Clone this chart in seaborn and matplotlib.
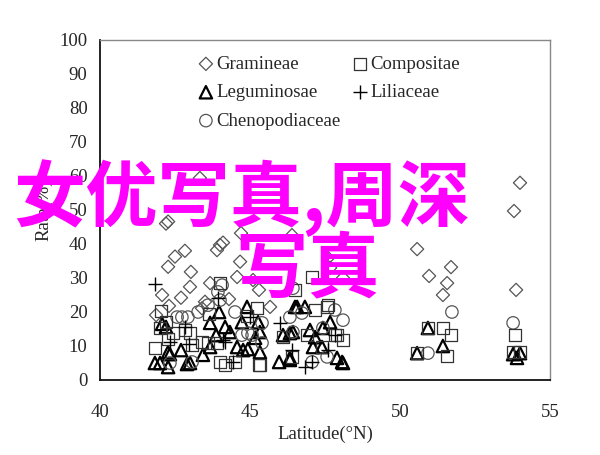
import matplotlib
matplotlib.use("Agg")
import matplotlib.pyplot as plt
import seaborn as sns
import pandas as pd

# ---- data ----
gram_x = [43.33, 54.0, 53.8, 50.57, 51.7, 50.97, 51.57, 51.43, 53.87,
          42.2, 42.27, 42.83, 42.5, 42.27, 43.03, 43.0, 42.7, 42.07, 42.3, 41.87,
          44.0, 44.1, 43.9, 44.7, 44.67, 44.57, 43.67, 44.3, 43.5, 43.4,
          45.1, 45.3, 45.67, 46.4, 47.6, 47.67, 48.1]
gram_y = [59.4, 58.0, 49.7, 38.5, 33.2, 30.6, 28.5, 25.0, 26.5,
          46.0, 46.6, 38.0, 36.3, 33.3, 31.8, 27.4, 24.2, 25.0, 21.8, 19.1,
          39.7, 40.4, 38.2, 43.2, 34.8, 30.3, 28.5, 23.8, 23.0, 21.1,
          29.4, 26.5, 21.5, 42.6, 35.9, 33.0, 30.0]

comp_x = [42.03, 41.83, 42.0, 42.27, 42.43, 42.83, 43.0, 42.2, 43.07, 43.4, 43.6,
          43.63, 44.0, 44.0, 44.17, 44.5, 45.3, 45.23, 43.9, 44.9,
          47.07, 46.5, 47.57, 46.9, 46.1, 47.4, 45.33, 46.4, 47.9, 47.6, 47.17,
          47.83, 48.1, 50.93, 51.43, 51.7, 50.57, 51.57, 53.83, 53.77, 54.0]
comp_y = [20.3, 9.4, 15.3, 12.0, 13.8, 14.7, 13.8, 17.0, 10.3, 11.2, 10.9,
          19.4, 28.5, 5.3, 4.4, 5.3, 4.4, 21.2, 10.9, 18.8,
          30.3, 26.5, 21.5, 13.2, 12.6, 9.7, 4.4, 6.8, 13.2, 22.0, 20.6,
          13.2, 11.8, 15.3, 15.3, 13.2, 7.9, 7.1, 13.2, 8.2, 8.2]

legu_x = [42.07, 42.2, 41.83, 42.0, 42.27, 42.27, 42.33, 42.7, 42.9, 43.0, 43.43,
          43.67, 43.67, 43.87, 43.97, 44.17, 44.33, 44.57, 44.73, 44.77, 44.93,
          44.9, 45.17, 45.27, 45.33, 45.33, 45.97, 46.1, 46.33, 46.33, 46.5,
          46.57, 46.83, 46.43, 47.0, 47.67, 47.1, 47.4, 46.33, 47.9, 47.43,
          47.17, 48.07, 48.1, 50.93, 50.57, 51.43, 53.77, 53.9, 54.0]
legu_y = [16.5, 15.6, 5.0, 5.0, 3.8, 8.2, 7.6, 8.8, 4.7, 5.0, 7.4,
          9.7, 16.8, 13.2, 20.0, 15.6, 14.1, 9.7, 17.0, 8.8, 9.1,
          21.5, 12.4, 17.0, 14.1, 8.2, 5.3, 13.2, 13.8, 5.9, 21.5,
          21.5, 21.5, 14.1, 14.7, 17.0, 9.7, 9.7, 6.5, 6.5, 15.3,
          12.6, 5.3, 5.0, 15.3, 7.9, 10.0, 7.6, 6.5, 7.9]

lili_x = [41.83, 42.97, 44.43, 43.93, 46.0, 44.1, 42.83, 45.0, 46.4, 47.6,
          46.83, 47.07, 42.33, 44.17, 47.83]
lili_y = [28.2, 10.6, 5.3, 24.1, 16.8, 11.8, 15.6, 18.5, 8.8, 8.8,
          3.8, 5.3, 11.2, 11.2, 13.2]

cheno_x = [42.57, 42.73, 42.93, 42.33, 43.27, 43.6, 44.0, 44.5, 44.73, 44.93,
           45.4, 45.4, 43.07, 43.93, 44.07, 46.43, 46.73, 46.33, 47.43, 46.43,
           45.07, 47.57, 47.07, 47.83, 48.1, 51.73, 50.93, 53.77]
cheno_y = [18.5, 18.5, 18.5, 5.0, 20.0, 22.0, 23.5, 20.0, 13.2, 13.8,
           10.9, 16.8, 5.3, 25.9, 27.9, 27.0, 19.7, 18.5, 15.3, 14.1,
           13.2, 6.8, 5.3, 20.6, 17.6, 20.0, 7.9, 16.8]

x_ticks = [40, 45, 50, 55]
y_ticks = list(range(0, 101, 10))

# ---- figure ----
sns.set_style("white")
plt.rcParams["font.family"] = ["Liberation Serif", "DejaVu Serif"]

fig = plt.figure(figsize=(6.0, 4.55), dpi=100)
ax = fig.add_axes([100/600, 1-380/455, 450/600, 340/455])

specs = [
    ("Gramineae", gram_x, gram_y, "D", 45, "#555555", 0.9),
    ("Leguminosae", legu_x, legu_y, "^", 80, "#000000", 1.6),
    ("Chenopodiaceae", cheno_x, cheno_y, "o", 80, "#555555", 0.9),
    ("Compositae", comp_x, comp_y, "s", 75, "#333333", 0.9),
    ("Liliaceae", lili_x, lili_y, "+", 90, "#000000", 1.0),
]
for name, xs, ys, m, s, c, lw in specs:
    df = pd.DataFrame({"x": xs, "y": ys})
    if m == "+":
        sns.scatterplot(data=df, x="x", y="y", marker=m, s=s, color=c,
                        linewidth=lw, label=name, ax=ax)
    else:
        sns.scatterplot(data=df, x="x", y="y", marker=m, s=s,
                        facecolor="none", edgecolor=c, linewidth=lw,
                        label=name, ax=ax)

ax.set_xlim(40, 55)
ax.set_ylim(0, 100)
ax.set_xticks(x_ticks)
ax.set_yticks(y_ticks)
ax.tick_params(axis="both", direction="in", labelsize=13.5, length=4,
               width=1, color="#333333", top=False, right=False, pad=9)
ax.tick_params(axis="x", pad=17)
for side in ["left", "bottom"]:
    ax.spines[side].set_color("#111111")
    ax.spines[side].set_linewidth(1.3)
for side in ["top", "right"]:
    ax.spines[side].set_color("#888888")
    ax.spines[side].set_linewidth(1.0)

ax.set_xlabel("Latitude(°N)", fontsize=13.5, labelpad=4)
ax.set_ylabel("Rate(%)", fontsize=13.5, labelpad=5)

leg = ax.legend(loc="upper left", bbox_to_anchor=(0.202, 0.976), ncol=2,
                frameon=False, fontsize=13.5, handlelength=0.8,
                handletextpad=0.15, columnspacing=0.65, labelspacing=0.6,
                borderaxespad=0)

# overlay text
cjk = ["Noto Sans CJK SC", "DejaVu Sans"]
fig.text(242/600, 1-198/455, "女优写真,周深", ha="center", va="center",
         fontsize=52, color="#ff00ff", fontweight="bold", family=cjk,
         zorder=20)
fig.text(308/600, 1-270/455, "写真", ha="center", va="center",
         fontsize=52, color="#ff00ff", fontweight="bold", family=cjk,
         zorder=20)

fig.savefig("out.png", dpi=100)
